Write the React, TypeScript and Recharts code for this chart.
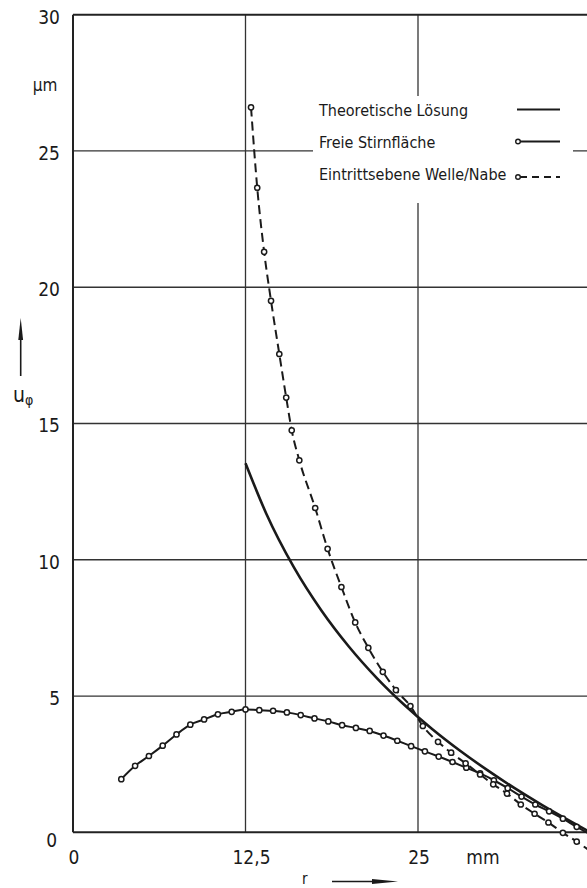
import React from 'react';
import { LineChart, Line, XAxis, YAxis, ReferenceLine, Legend } from 'recharts';

const FONT = "'Liberation Sans Narrow', 'DejaVu Sans Condensed', 'Arial Narrow', sans-serif";
const INK = '#1a1a1a';

// axis ticks
const X_TICKS = [0, 12.5, 25, 30];
const X_TICK_LABELS = ['0', '12,5', '25', 'mm'];
const Y_TICKS = [0, 5, 10, 15, 20, 25, 30];
const Y_TICK_LABELS = ['0', '5', '10', '15', '20', '25', '30'];
const GRID_Y = [5, 10, 15, 20, 25];
const GRID_X = [12.5, 25];

const SERIES_NAMES = ['Theoretische Lösung', 'Freie Stirnfläche', 'Eintrittsebene Welle/Nabe'];

// Theoretische Lösung
const R_THEORY = [12.5, 14, 16, 18, 20, 22, 24, 26, 28, 30, 32, 34, 36, 37.5];
const U_THEORY = [13.54, 11.7, 9.73, 8.14, 6.81, 5.67, 4.68, 3.8, 3.01, 2.29, 1.62, 1.0, 0.42, 0.0];

// Freie Stirnfläche
const R_FREE = [3.5, 4.5, 5.5, 6.5, 7.5, 8.5, 9.5, 10.5, 11.5, 12.5, 13.5, 14.5, 15.5, 16.5, 17.5, 18.5, 19.5, 20.5, 21.5, 22.5, 23.5, 24.5, 25.5, 26.5, 27.5, 28.5, 29.5, 30.5, 31.5, 32.5, 33.5, 34.5, 35.5, 36.5, 37.5];
const U_FREE = [1.95, 2.44, 2.8, 3.18, 3.59, 3.95, 4.14, 4.33, 4.42, 4.51, 4.48, 4.46, 4.4, 4.3, 4.18, 4.07, 3.93, 3.83, 3.72, 3.55, 3.36, 3.16, 2.97, 2.78, 2.58, 2.37, 2.16, 1.91, 1.62, 1.31, 1.02, 0.77, 0.5, 0.2, -0.08];

// Eintrittsebene Welle/Nabe
const R_ENTRY = [12.9, 13.35, 13.85, 14.35, 14.95, 15.45, 15.85, 16.4, 17.55, 18.45, 19.45, 20.45, 21.4, 22.45, 23.4, 24.45, 25.35, 26.45, 27.4, 28.45, 29.5, 30.45, 31.45, 32.45, 33.45, 34.45, 35.5, 36.5, 37.5];
const U_ENTRY = [26.6, 23.65, 21.3, 19.5, 17.55, 15.95, 14.75, 13.65, 11.9, 10.4, 9.0, 7.7, 6.77, 5.89, 5.22, 4.63, 3.9, 3.32, 2.92, 2.53, 2.12, 1.76, 1.42, 1.02, 0.68, 0.36, -0.02, -0.34, -0.7];

const zip = (xs: number[], ys: number[]) => xs.map((r, i) => ({ r, u: ys[i] }));
const dataTheory = zip(R_THEORY, U_THEORY);
const dataFree = zip(R_FREE, U_FREE);
const dataEntry = zip(R_ENTRY, U_ENTRY);

const XTick = (props: any) => {
  const { x, y, payload } = props;
  const i = X_TICKS.indexOf(payload.value);
  const label = X_TICK_LABELS[i] ?? String(payload.value);
  const dx = payload.value === 12.5 ? 6 : payload.value === 30 ? -4 : 1;
  return (
    <text x={x + dx} y={y + 2} textAnchor="middle" fontFamily={FONT} fontSize={19} fill={INK}>
      {label}
    </text>
  );
};

const YTick = (props: any) => {
  const { y, payload } = props;
  const i = Y_TICKS.indexOf(payload.value);
  const label = Y_TICK_LABELS[i] ?? String(payload.value);
  const isZero = payload.value === 0;
  return (
    <text x={isZero ? 57 : 60} y={y + (isZero ? 15 : 9)} textAnchor="end" fontFamily={FONT} fontSize={19} fill={INK}>
      {label}
    </text>
  );
};

const renderLegend = () => {
  const rows = [20, 52, 84];
  const sampleY = [13.5, 45.5, 81];
  return (
    <svg width={260} height={107} style={{ display: 'block' }}>
      {SERIES_NAMES.map((n, i) => (
        <text key={n} x={6} y={rows[i]} fontFamily={FONT} fontSize={16} fill={INK}>
          {n}
        </text>
      ))}
      <line x1={204} x2={247} y1={sampleY[0]} y2={sampleY[0]} stroke={INK} strokeWidth={2.2} />
      <line x1={207} x2={247} y1={sampleY[1]} y2={sampleY[1]} stroke={INK} strokeWidth={2} />
      <circle cx={205} cy={sampleY[1]} r={2.3} fill="#fff" stroke={INK} strokeWidth={1.4} />
      <line x1={207} x2={247} y1={sampleY[2]} y2={sampleY[2]} stroke={INK} strokeWidth={2} strokeDasharray="7 5" />
      <circle cx={205} cy={sampleY[2]} r={2.3} fill="#fff" stroke={INK} strokeWidth={1.4} />
    </svg>
  );
};

export default function App() {
  return (
    <div style={{ position: 'absolute', left: 0, top: 0, width: 587, height: 888, overflow: 'hidden', background: '#fff' }}>
      <LineChart width={600} height={888} margin={{ top: 14.7, right: 9.5, bottom: 0, left: 0 }}>
        <XAxis
          dataKey="r"
          type="number"
          domain={[0, 37.5]}
          ticks={X_TICKS}
          allowDataOverflow
          axisLine={false}
          tickLine={false}
          height={33.9}
          tick={<XTick />}
          interval={0}
        />
        <YAxis
          type="number"
          domain={[-0.8, 30]}
          ticks={Y_TICKS}
          allowDataOverflow
          axisLine={false}
          tickLine={false}
          width={73}
          tick={<YTick />}
          interval={0}
        />
        {GRID_Y.map((v) => (
          <ReferenceLine key={'gy' + v} y={v} stroke="#333" strokeWidth={1.3} />
        ))}
        {GRID_X.map((v) => (
          <ReferenceLine key={'gx' + v} segment={[{ x: v, y: 0 }, { x: v, y: 30 }]} stroke="#333" strokeWidth={1.3} />
        ))}
        <ReferenceLine y={30} stroke="#222" strokeWidth={2} />
        <ReferenceLine y={0} stroke="#222" strokeWidth={2} />
        <ReferenceLine segment={[{ x: 0, y: 0 }, { x: 0, y: 30 }]} stroke="#222" strokeWidth={2} />
        <ReferenceLine segment={[{ x: 37.5, y: 0 }, { x: 37.5, y: 30 }]} stroke="#222" strokeWidth={2} />
        <Line
          data={dataTheory}
          dataKey="u"
          name={SERIES_NAMES[0]}
          type="monotone"
          stroke={INK}
          strokeWidth={2.6}
          dot={false}
          isAnimationActive={false}
        />
        <Line
          data={dataFree}
          dataKey="u"
          name={SERIES_NAMES[1]}
          type="monotone"
          stroke={INK}
          strokeWidth={2}
          dot={{ r: 2.6, fill: '#fff', stroke: INK, strokeWidth: 1.5 }}
          isAnimationActive={false}
        />
        <Line
          data={dataEntry}
          dataKey="u"
          name={SERIES_NAMES[2]}
          type="monotone"
          stroke={INK}
          strokeWidth={2}
          strokeDasharray="9 5"
          dot={{ r: 2.6, fill: '#fff', stroke: INK, strokeWidth: 1.5, strokeDasharray: '' }}
          isAnimationActive={false}
        />
        <Legend
          layout="horizontal"
          verticalAlign="middle"
          align="center"
          content={renderLegend}
          wrapperStyle={{ left: 313, top: 96, width: 260, height: 107, background: '#fff' }}
        />
      </LineChart>
      <svg width={587} height={888} style={{ position: 'absolute', left: 0, top: 0, pointerEvents: 'none' }}>
        <text x={45} y={91} textAnchor="middle" fontFamily={FONT} fontSize={17} fill={INK}>µm</text>
        <line x1={20.7} x2={20.7} y1={376} y2={334} stroke={INK} strokeWidth={1.6} />
        <polygon points="20.7,318 18.3,340 23.1,340" fill={INK} />
        <text x={13} y={402} fontFamily={FONT} fontSize={21} fill={INK}>
          u
          <tspan fontSize={14} dy={3}>φ</tspan>
        </text>
        <text x={302} y={884} fontFamily={FONT} fontSize={15} fill={INK}>r</text>
        <line x1={332} x2={374} y1={881.5} y2={881.5} stroke={INK} strokeWidth={1.5} />
        <polygon points="372,879 398,881.5 372,884" fill={INK} />
      </svg>
    </div>
  );
}
